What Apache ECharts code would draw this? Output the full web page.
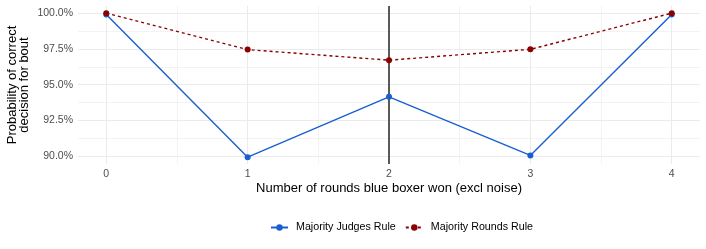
<!DOCTYPE html>
<html>
<head>
<meta charset="utf-8">
<script src="https://cdn.jsdelivr.net/npm/echarts@6/dist/echarts.min.js"></script>
<style>html,body{margin:0;padding:0;background:#fff}#c{width:706px;height:249px}</style>
</head>
<body>
<div id="c"></div>
<script>
// ---- data ----
const rounds = [0, 1, 2, 3, 4];
const judgesRule = [99.9, 89.93, 94.15, 90.05, 99.9];
const roundsRule = [100.0, 97.45, 96.71, 97.47, 100.0];
const xMajorTicks = [0, 1, 2, 3, 4];
const xMinorTicks = [0.5, 1.5, 2.5, 3.5];
const yMajorTicks = [90, 92.5, 95, 97.5, 100];
const yMinorTicks = [91.25, 93.75, 96.25, 98.75];
const markerX = [2];
const seriesNames = ['Majority Judges Rule', 'Majority Rounds Rule'];
const xTitle = 'Number of rounds blue boxer won (excl noise)';
const yTitle = 'Probability of correct\ndecision for bout';

const FONT = '"Liberation Sans", Arial, Helvetica, sans-serif';
const BLUE = '#1a5fcf';
const RED = '#8b0000';
const GRID = '#ebebeb';
const xMin = -0.2, xMax = 4.2, yMin = 89.45, yMax = 100.5;

const chart = echarts.init(document.getElementById('c'), null, {renderer: 'canvas'});
chart.setOption({
  animation: false,
  backgroundColor: '#fff',
  textStyle: {fontFamily: FONT},
  grid: {left: 78, right: 6, top: 6, bottom: 85, containLabel: false, outerBoundsMode: 'none'},
  xAxis: [{
    type: 'value', min: xMin, max: xMax, position: 'bottom',
    axisLine: {show: false}, axisTick: {show: false, customValues: xMajorTicks},
    axisLabel: {customValues: xMajorTicks, color: '#4d4d4d', fontSize: 10.5, margin: 5, fontFamily: FONT},
    splitLine: {show: true, lineStyle: {color: GRID, width: 1}},
    name: xTitle, nameLocation: 'middle', nameGap: 18, nameMoveOverlap: false,
    nameTextStyle: {color: '#000', fontSize: 13, fontFamily: FONT}
  }, {
    type: 'value', min: xMin, max: xMax, position: 'top',
    axisLine: {show: false}, axisTick: {show: false, customValues: xMinorTicks},
    axisLabel: {show: false},
    splitLine: {show: true, lineStyle: {color: GRID, width: 0.6}}
  }],
  yAxis: [{
    type: 'value', min: yMin, max: yMax, position: 'left',
    axisLine: {show: false}, axisTick: {show: false, customValues: yMajorTicks},
    axisLabel: {customValues: yMajorTicks, color: '#4d4d4d', fontSize: 10.5, margin: 5, fontFamily: FONT,
      formatter: v => v.toFixed(1) + '%'},
    splitLine: {show: true, lineStyle: {color: GRID, width: 1}},
    name: yTitle, nameLocation: 'middle', nameGap: 47, nameRotate: 90, nameMoveOverlap: false,
    nameTextStyle: {color: '#000', fontSize: 13, lineHeight: 12.5, fontFamily: FONT, align: 'center'}
  }, {
    type: 'value', min: yMin, max: yMax, position: 'right',
    axisLine: {show: false}, axisTick: {show: false, customValues: yMinorTicks},
    axisLabel: {show: false},
    splitLine: {show: true, lineStyle: {color: GRID, width: 0.6}}
  }],
  legend: {
    left: 265, top: 217, itemWidth: 17, itemHeight: 8, itemGap: 9,
    textStyle: {fontSize: 10.7, color: '#000', fontFamily: FONT, padding: [0, 0, 0, 3]},
    data: seriesNames
  },
  series: [{
    name: seriesNames[0], type: 'line', xAxisIndex: 0, yAxisIndex: 0,
    data: rounds.map((r, i) => [r, judgesRule[i]]),
    symbol: 'circle', symbolSize: 6, z: 3,
    lineStyle: {color: BLUE, width: 1.4}, itemStyle: {color: BLUE},
    markLine: {
      silent: true, symbol: 'none', label: {show: false}, z: 2,
      lineStyle: {color: '#333', width: 1.6, type: 'solid'},
      data: markerX.map(v => ({xAxis: v}))
    }
  }, {
    name: seriesNames[1], type: 'line', xAxisIndex: 0, yAxisIndex: 0,
    data: rounds.map((r, i) => [r, roundsRule[i]]),
    symbol: 'circle', symbolSize: 6, z: 4,
    lineStyle: {color: RED, width: 1.4, type: [3, 3]}, itemStyle: {color: RED}
  }]
});
</script>
</body>
</html>
